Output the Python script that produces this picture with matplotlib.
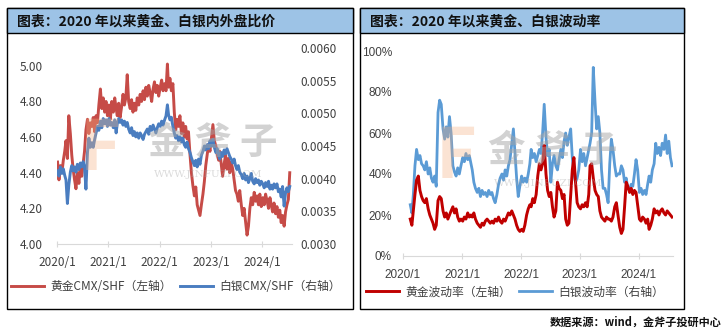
import pandas as pd
import matplotlib.pyplot as plt
from matplotlib.patches import Rectangle
from matplotlib.ticker import FuncFormatter

plt.rcParams['font.family'] = ['Noto Sans CJK SC', 'DejaVu Sans']

# x axis ticks (both panels)
tick_labels = ['2020/1', '2021/1', '2022/1', '2023/1', '2024/1']

# gold CMX/SHF ratio (left axis), 3 readings a month from 2020-01
gold_ratio = [
    4.46, 4.36, 4.44, 4.40, 4.47, 4.52, 4.58, 4.48, 4.72, 4.62, 4.50, 4.42,
    4.36, 4.31, 4.40, 4.34, 4.44, 4.38, 4.45, 4.52, 4.64, 4.70, 4.62, 4.68,
    4.66, 4.71, 4.63, 4.72, 4.68, 4.78, 4.87, 4.76, 4.82, 4.74, 4.80, 4.72,
    # 2021
    4.78, 4.70, 4.80, 4.74, 4.82, 4.76, 4.72, 4.79, 4.71, 4.77, 4.84, 4.78,
    4.82, 4.95, 4.80, 4.76, 4.81, 4.74, 4.79, 4.75, 4.82, 4.78, 4.84, 4.80,
    4.86, 4.81, 4.88, 4.83, 4.89, 4.85, 4.80, 4.87, 4.91, 4.85, 4.89, 4.83,
    # 2022
    4.88, 4.92, 4.86, 4.90, 4.86, 5.01, 4.88, 4.93, 4.86, 4.90, 4.74, 4.64,
    4.70, 4.66, 4.72, 4.62, 4.68, 4.60, 4.66, 4.59, 4.63, 4.50, 4.40, 4.33,
    4.27, 4.32, 4.22, 4.19, 4.16, 4.22, 4.28, 4.35, 4.44, 4.50, 4.56, 4.52,
    # 2023
    4.60, 4.67, 4.58, 4.55, 4.50, 4.47, 4.52, 4.45, 4.38, 4.45, 4.50, 4.42,
    4.48, 4.40, 4.46, 4.42, 4.36, 4.30, 4.28, 4.24, 4.30, 4.22, 4.16, 4.20,
    4.12, 4.05, 4.10, 4.20, 4.26, 4.22, 4.29, 4.24, 4.27, 4.22, 4.28, 4.21,
    # 2024
    4.26, 4.22, 4.28, 4.24, 4.20, 4.26, 4.22, 4.18, 4.23, 4.17, 4.21, 4.15,
    4.19, 4.12, 4.16, 4.10, 4.18, 4.22, 4.25, 4.40,
]

# silver CMX/SHF ratio (right axis)
silver_ratio = [
    0.00412, 0.00404, 0.00418, 0.00408, 0.00415, 0.00405, 0.00398, 0.00362, 0.00390,
    0.00410, 0.00420, 0.00412, 0.00418, 0.00410, 0.00422, 0.00414, 0.00424, 0.00418,
    0.00426, 0.00418, 0.00384, 0.00440, 0.00462, 0.00448, 0.00455, 0.00448, 0.00460,
    0.00470, 0.00480, 0.00474, 0.00488, 0.00478, 0.00492, 0.00484, 0.00490, 0.00480,
    # 2021
    0.00492, 0.00482, 0.00486, 0.00478, 0.00490, 0.00470, 0.00484, 0.00492, 0.00486,
    0.00490, 0.00482, 0.00488, 0.00480, 0.00486, 0.00476, 0.00470, 0.00478, 0.00466,
    0.00472, 0.00464, 0.00470, 0.00462, 0.00470, 0.00466, 0.00460, 0.00468, 0.00472,
    0.00476, 0.00468, 0.00480, 0.00474, 0.00482, 0.00476, 0.00470, 0.00478, 0.00484,
    # 2022
    0.00480, 0.00488, 0.00482, 0.00490, 0.00496, 0.00513, 0.00498, 0.00490, 0.00494,
    0.00480, 0.00470, 0.00462, 0.00466, 0.00458, 0.00464, 0.00456, 0.00462, 0.00452,
    0.00448, 0.00456, 0.00446, 0.00440, 0.00432, 0.00426, 0.00420, 0.00428, 0.00418,
    0.00430, 0.00422, 0.00436, 0.00442, 0.00450, 0.00444, 0.00452, 0.00446, 0.00458,
    # 2023
    0.00450, 0.00460, 0.00448, 0.00440, 0.00446, 0.00436, 0.00430, 0.00440, 0.00434,
    0.00444, 0.00438, 0.00446, 0.00440, 0.00434, 0.00430, 0.00424, 0.00430, 0.00420,
    0.00414, 0.00420, 0.00410, 0.00406, 0.00400, 0.00408, 0.00398, 0.00404, 0.00394,
    0.00400, 0.00408, 0.00396, 0.00392, 0.00400, 0.00394, 0.00398, 0.00390, 0.00396,
    # 2024
    0.00392, 0.00386, 0.00394, 0.00388, 0.00396, 0.00384, 0.00390, 0.00384, 0.00392,
    0.00386, 0.00392, 0.00380, 0.00384, 0.00372, 0.00388, 0.00358, 0.00378, 0.00386,
    0.00380, 0.00388,
]

# gold volatility (%), from 2020-02-15
gold_vol = [
    18, 15, 22, 30, 37, 39, 32, 29, 27, 26, 28, 23, 20, 18, 16, 13, 15,
    27, 29, 28, 22, 19, 21, 18, 20, 22, 24, 21, 23, 19, 17, 18,
    # 2021
    17, 19, 18, 21, 19, 20, 19, 21, 18, 16, 15, 14, 16, 15, 17, 18, 17, 16,
    17, 16, 18, 17, 19, 17, 16, 18, 17, 19, 21, 20, 22, 20, 18, 15, 13, 12,
    # 2022
    13, 12, 15, 20, 23, 25, 24, 28, 26, 30, 39, 45, 42, 45, 54, 40, 32, 29,
    31, 24, 19, 22, 36, 33, 32, 28, 30, 18, 15, 16, 30, 42, 48, 36, 26, 24,
    # 2023
    23, 25, 24, 26, 24, 30, 44, 45, 38, 32, 30, 29, 22, 19, 18, 17, 19, 18,
    18, 17, 19, 24, 26, 20, 14, 11, 13, 24, 36, 34, 31, 33, 30, 32, 31, 25,
    # 2024
    18, 17, 19, 18, 16, 18, 13, 15, 18, 23, 21, 22, 20, 22, 23, 21, 20, 22,
    21, 20, 19,
]

# silver volatility (%), from 2020-02-15
silver_vol = [
    25, 21, 30, 44, 52, 47, 49, 45, 44, 42, 46, 40, 43, 38, 36, 39, 34,
    70, 76, 74, 62, 57, 63, 58, 68, 60, 44, 41, 39, 43, 40, 44,
    # 2021
    48, 46, 50, 47, 49, 45, 42, 36, 33, 31, 33, 29, 32, 30, 31, 29, 32, 30,
    31, 28, 26, 30, 35, 38, 40, 37, 42, 39, 44, 47, 55, 62, 50, 38, 29, 34,
    # 2022
    39, 36, 38, 36, 40, 45, 52, 48, 50, 46, 49, 52, 50, 60, 74, 58, 49, 52,
    36, 45, 49, 44, 42, 47, 52, 48, 56, 60, 54, 58, 62, 48, 40, 36, 38, 42,
    # 2023
    52, 46, 50, 44, 48, 52, 55, 60, 92, 75, 62, 68, 60, 42, 33, 33, 30, 26,
    45, 57, 52, 44, 39, 40, 40, 44, 42, 36, 38, 33, 32, 35, 34, 40, 47, 42,
    # 2024
    31, 33, 30, 32, 30, 35, 39, 36, 42, 45, 55, 50, 53, 49, 55, 52, 59, 50,
    56, 48, 44,
]

# date grid: 5th, 15th and 25th of each month
months = pd.period_range('2020-01', '2024-07', freq='M')
grid = [pd.Timestamp(p.year, p.month, d) for p in months for d in (5, 15, 25)]
dates_ratio = grid[:len(gold_ratio)]
dates_vol = grid[4:4 + len(gold_vol)]
tick_dates = pd.to_datetime([t.replace('/', '-') + '-01' for t in tick_labels])
xmin, xmax = pd.Timestamp('2020-01-01'), pd.Timestamp('2024-07-31')

W, H = 727, 335


def fx(x):
    return x / W


def fy(y):
    return 1 - y / H


def box(x0, y0, x1, y1, **kw):
    fig.add_artist(Rectangle((fx(x0), fy(y1)), fx(x1) - fx(x0), fy(y0) - fy(y1),
                             transform=fig.transFigure, **kw))


fig = plt.figure(figsize=(7.27, 3.35), dpi=100)
fig.patch.set_facecolor('white')

# panel frames and title bars
for x0, x1, title in [(7, 353, '图表：2020 年以来黄金、白银内外盘比价'),
                      (360, 684, '图表：2020 年以来黄金、白银波动率')]:
    box(x0, 8, x1, 309, fill=False, edgecolor='black', lw=1.0, zorder=5)
    box(x0, 8, x1, 33, facecolor='#9DC3E6', edgecolor='black', lw=1.0, zorder=5)
    fig.text(fx(x0 + 10), fy(21), title, fontsize=10, fontweight='bold',
             ha='left', va='center', color='#111111', zorder=6)

GRID = '#D9D9D9'
TXT = '#404040'
RED_L, BLUE_L = '#C64B47', '#4A7DC0'
RED_R, BLUE_R = '#C00000', '#5B9BD5'


def style_axis(ax):
    for s in ['top', 'left', 'right']:
        ax.spines[s].set_visible(False)
    ax.spines['bottom'].set_color(GRID)
    ax.set_facecolor('none')


# ---- left panel: CMX/SHF ratios
ax1 = fig.add_axes([fx(57), fy(244), fx(292) - fx(57), fy(48) - fy(244)])
ax1b = ax1.twinx()
l1, = ax1.plot(dates_ratio, gold_ratio, color=RED_L, lw=2.1)
l2, = ax1b.plot(dates_ratio, silver_ratio, color=BLUE_L, lw=2.1)
ax1.set_xlim(xmin, xmax)
ax1.set_ylim(4.0, 5.1)
ax1.set_yticks([4.0, 4.2, 4.4, 4.6, 4.8, 5.0])
ax1.yaxis.set_major_formatter(FuncFormatter(lambda v, p: f'{v:.2f}'))
ax1b.set_ylim(0.003, 0.006)
ax1b.set_yticks([0.003, 0.0035, 0.004, 0.0045, 0.005, 0.0055, 0.006])
ax1b.yaxis.set_major_formatter(FuncFormatter(lambda v, p: f'{v:.4f}'))
style_axis(ax1)
style_axis(ax1b)
ax1b.spines['bottom'].set_visible(False)
ax1.set_xticks(tick_dates)
ax1.set_xticklabels(tick_labels)
ax1.tick_params(axis='x', direction='inout', length=5, color=GRID, pad=6,
                labelsize=8.5, labelcolor=TXT)
ax1.tick_params(axis='y', length=0, pad=10, labelsize=8.5, labelcolor=TXT)
ax1b.tick_params(axis='y', length=0, pad=6, labelsize=8.5, labelcolor=TXT)

fig.legend([l1, l2], ['黄金CMX/SHF（左轴）', '白银CMX/SHF（右轴）'],
           loc='center', bbox_to_anchor=(fx(176), fy(287)), ncol=2, frameon=False,
           fontsize=8.5, handlelength=2.8, handletextpad=0.5, columnspacing=0.7,
           labelcolor=TXT)

# ---- right panel: volatility
ax2 = fig.add_axes([fx(403), fy(256), fx(673) - fx(403), fy(51) - fy(256)])
v1, = ax2.plot(dates_vol, gold_vol, color=RED_R, lw=2.1)
v2, = ax2.plot(dates_vol, silver_vol, color=BLUE_R, lw=2.0)
ax2.set_zorder(1)
v1.set_zorder(3)
ax2.set_xlim(xmin, xmax)
ax2.set_ylim(0, 100)
ax2.set_yticks(range(0, 101, 20))
ax2.yaxis.set_major_formatter(FuncFormatter(lambda v, p: f'{v:.0f}%'))
style_axis(ax2)
ax2.set_xticks(tick_dates)
ax2.set_xticklabels(tick_labels)
ax2.tick_params(axis='x', direction='inout', length=5, color=GRID, pad=7,
                labelsize=8.5, labelcolor=TXT)
ax2.tick_params(axis='y', length=0, pad=8, labelsize=8.5, labelcolor=TXT)
for t in ax2.get_xticklabels() + ax2.get_yticklabels():
    t.set_family(['Liberation Sans', 'DejaVu Sans'])

fig.legend([v1, v2], ['黄金波动率（左轴）', '白银波动率（右轴）'],
           loc='center', bbox_to_anchor=(fx(515), fy(292)), ncol=2, frameon=False,
           fontsize=8.5, handlelength=2.8, handletextpad=0.5, columnspacing=0.7,
           labelcolor=TXT)

# ---- watermark
for lx, cx, cy in [(100, 213, 142), (456, 553, 150)]:
    fig.text(fx(lx), fy(cy + 8), 'F', fontsize=50, fontweight='bold',
             color='#F4B183', alpha=0.35, ha='center', va='center', zorder=7)
    fig.text(fx(cx), fy(cy), '金 斧 子', fontsize=27, fontweight='bold',
             color='#A6A6A6', alpha=0.5, ha='center', va='center', zorder=7)
    fig.text(fx(cx - 5), fy(cy + 33), 'WWW.JINFUZI.COM', fontsize=7.5,
             family='DejaVu Serif', color='#A6A6A6', alpha=0.4,
             ha='center', va='center', zorder=7)

fig.text(fx(722), fy(322), '数据来源：wind，金斧子投研中心', fontsize=8,
         fontweight='bold', ha='right', va='center', color='#111111')

fig.savefig('out.png', dpi=100)
